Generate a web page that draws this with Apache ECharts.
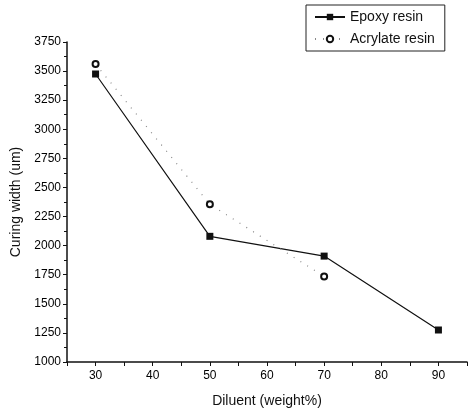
<!DOCTYPE html>
<html><head><meta charset="utf-8">
<script src="https://cdn.jsdelivr.net/npm/echarts@6/dist/echarts.min.js"></script>
<style>html,body{margin:0;padding:0;background:#fff}#c{width:470px;height:414px}</style>
</head><body><div id="c"></div>
<script>
const diluent = [30, 50, 70, 90];
const epoxy = [3475, 2080, 1910, 1275];
const acrylateX = [30, 50, 70];
const acrylate = [3560, 2355, 1735];

const chart = echarts.init(document.getElementById('c'));
const font = 'Liberation Sans, Arial, sans-serif';
chart.setOption({
  animation: false,
  grid: {left: 67, right: 2, top: 42, bottom: 52},
  legend: {
    orient: 'vertical', left: 306, top: 5,
    borderColor: '#222', borderWidth: 1, padding: [5, 10, 5, 8], itemGap: 8,
    itemWidth: 30, itemHeight: 8,
    textStyle: {fontFamily: font, fontSize: 14, color: '#111'},
    data: ['Epoxy resin', 'Acrylate resin']
  },
  xAxis: {
    type: 'value', min: 25, max: 95, interval: 5,
    name: 'Diluent (weight%)', nameLocation: 'middle', nameGap: 32,
    nameTextStyle: {fontFamily: font, fontSize: 14, color: '#111'},
    axisLine: {lineStyle: {color: '#111', width: 1.5}},
    axisTick: {show: true, length: 4, lineStyle: {color: '#111'}},
    axisLabel: {fontFamily: font, fontSize: 12, color: '#000', margin: 8,
      formatter: v => (v % 10 === 0 && v >= 30 && v <= 90) ? String(v) : ''},
    splitLine: {show: false}
  },
  yAxis: {
    type: 'value', min: 1000, max: 3750, interval: 250,
    name: 'Curing width (um)', nameLocation: 'middle', nameGap: 42,
    nameTextStyle: {fontFamily: font, fontSize: 14, color: '#111'},
    axisLine: {show: true, lineStyle: {color: '#111', width: 1.5}},
    axisTick: {show: true, length: 4, lineStyle: {color: '#111'}},
    minorTick: {show: true, splitNumber: 2, length: 3, lineStyle: {color: '#111'}},
    axisLabel: {fontFamily: font, fontSize: 12, color: '#000', margin: 6,
      formatter: v => String(v)},
    splitLine: {show: false}
  },
  series: [
    {
      name: 'Epoxy resin', type: 'line',
      data: diluent.map((x, i) => [x, epoxy[i]]),
      symbol: 'rect', symbolSize: 7,
      itemStyle: {color: '#111'},
      lineStyle: {color: '#111', width: 1.2}
    },
    {
      name: 'Acrylate resin', type: 'line',
      data: acrylateX.map((x, i) => [x, acrylate[i]]),
      symbol: 'emptyCircle', symbolSize: 6, showAllSymbol: true,
      itemStyle: {color: '#111', borderWidth: 2.5},
      lineStyle: {color: '#888', width: 1.2, type: [1, 7]}
    }
  ]
});
</script></body></html>
